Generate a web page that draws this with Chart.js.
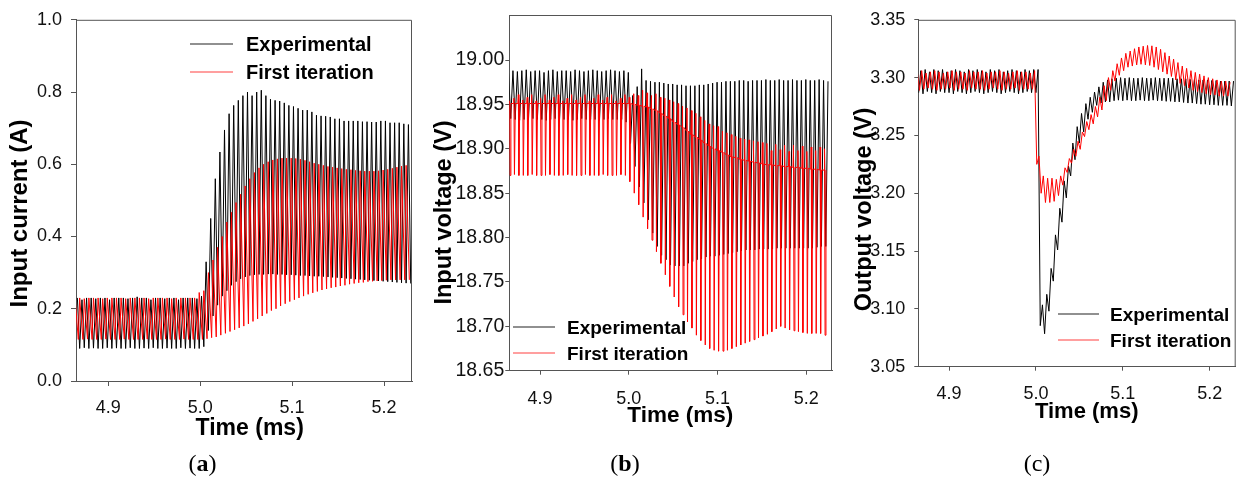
<!DOCTYPE html>
<html>
<head>
<meta charset="utf-8">
<script src="https://cdn.jsdelivr.net/npm/chart.js@4.4.1/dist/chart.umd.min.js"></script>
<style>
  html, body { margin: 0; padding: 0; background: #fff; }
  #wrap { position: relative; width: 1240px; height: 479px; overflow: hidden; }
  canvas { position: absolute; top: 0; }
</style>
</head>
<body>
<div id="wrap">
  <canvas id="ca" width="420" height="479" style="left:0"></canvas>
  <canvas id="cb" width="420" height="479" style="left:420px"></canvas>
  <canvas id="cc" width="400" height="479" style="left:840px"></canvas>
</div>
<script>
// switching cycles of 5 us; 28 cycles before the load step at 5.0 ms, 45 after
const PERIOD = 0.005;
const CYCLE_START = 4.86;

const timeTicks = [4.9, 5.0, 5.1, 5.2];
const currTicks = [0, 0.2, 0.4, 0.6, 0.8, 1.0];
const vinTicks = [18.65, 18.70, 18.75, 18.80, 18.85, 18.90, 18.95, 19.00];
const voutTicks = [3.05, 3.10, 3.15, 3.20, 3.25, 3.30, 3.35];

// (a) input current, A - peak / valley of each cycle
const currExpPeak = [
  0.23,0.225,0.23,0.23,0.228,0.23,0.23,0.225,0.23,0.23,0.23,0.228,0.23,0.233,
  0.23,0.23,0.225,0.23,0.23,0.228,0.23,0.23,0.225,0.23,0.23,0.23,0.228,0.235,
  0.33,0.45,0.56,0.634,0.695,0.74,0.763,0.777,0.79,0.80,
  0.79,0.80,0.805,0.79,0.78,0.777,0.775,0.77,0.763,0.76,
  0.755,0.75,0.75,0.745,0.736,0.734,0.733,0.731,0.726,0.726,
  0.72,0.72,0.72,0.72,0.718,0.718,0.717,0.717,0.72,0.72,
  0.715,0.715,0.715,0.712,0.71];
const currExpValley = [
  0.09,0.092,0.09,0.091,0.09,0.09,0.092,0.09,0.091,0.09,0.09,0.092,0.09,0.09,
  0.091,0.09,0.092,0.09,0.09,0.091,0.09,0.09,0.092,0.09,0.091,0.09,0.09,0.095,
  0.14,0.18,0.21,0.235,0.25,0.265,0.275,0.283,0.288,0.292,
  0.294,0.295,0.295,0.296,0.296,0.295,0.295,0.294,0.294,0.293,
  0.292,0.292,0.291,0.29,0.29,0.289,0.288,0.287,0.286,0.285,
  0.284,0.283,0.282,0.281,0.28,0.279,0.278,0.277,0.276,0.275,
  0.274,0.273,0.272,0.271,0.27];
const currSimPeak = [
  0.23,0.23,0.228,0.23,0.23,0.23,0.228,0.23,0.23,0.23,0.23,0.228,0.23,0.23,
  0.23,0.23,0.228,0.23,0.23,0.23,0.23,0.228,0.23,0.23,0.23,0.23,0.23,0.245,
  0.25,0.30,0.335,0.37,0.40,0.44,0.467,0.494,0.517,0.54,
  0.56,0.577,0.59,0.60,0.607,0.612,0.615,0.617,0.617,0.617,
  0.616,0.614,0.611,0.607,0.603,0.6,0.597,0.594,0.592,0.59,
  0.588,0.586,0.585,0.583,0.582,0.581,0.581,0.581,0.582,0.584,
  0.586,0.589,0.592,0.595,0.597];
const currSimValley = [
  0.115,0.115,0.116,0.115,0.115,0.115,0.116,0.115,0.115,0.115,0.116,0.115,0.115,0.115,
  0.115,0.116,0.115,0.115,0.115,0.116,0.115,0.115,0.115,0.116,0.115,0.115,0.115,0.115,
  0.117,0.12,0.122,0.127,0.132,0.137,0.142,0.147,0.152,0.158,
  0.165,0.172,0.18,0.187,0.195,0.2,0.208,0.214,0.22,0.225,
  0.23,0.235,0.24,0.244,0.248,0.252,0.255,0.258,0.26,0.263,
  0.265,0.268,0.27,0.272,0.273,0.275,0.276,0.277,0.278,0.279,
  0.28,0.28,0.28,0.28,0.28];

// (b) input voltage, V
const vinExpPeak = [
  18.986,18.988,18.987,18.988,18.989,18.987,18.988,18.988,18.986,18.988,18.989,18.987,18.988,18.988,
  18.987,18.989,18.988,18.987,18.988,18.989,18.988,18.987,18.988,18.989,18.988,18.987,18.988,18.986,
  18.96,18.97,18.99,18.977,18.976,18.975,18.975,18.974,18.973,18.973,
  18.972,18.972,18.971,18.971,18.971,18.972,18.972,18.973,18.974,18.975,
  18.975,18.976,18.976,18.976,18.977,18.977,18.976,18.977,18.977,18.977,
  18.978,18.977,18.977,18.978,18.977,18.977,18.978,18.977,18.977,18.978,
  18.977,18.977,18.978,18.977,18.976];
const vinExpValley = [
  18.933,18.934,18.933,18.932,18.933,18.933,18.934,18.933,18.933,18.932,18.933,18.934,18.933,18.933,
  18.933,18.932,18.933,18.934,18.933,18.933,18.933,18.932,18.933,18.934,18.933,18.933,18.933,18.93,
  18.906,18.88,18.857,18.839,18.82,18.805,18.79,18.78,18.775,18.769,
  18.768,18.768,18.768,18.771,18.773,18.775,18.776,18.778,18.779,18.779,
  18.78,18.781,18.782,18.783,18.784,18.785,18.786,18.786,18.786,18.787,
  18.787,18.787,18.787,18.788,18.788,18.788,18.788,18.788,18.788,18.788,
  18.788,18.788,18.789,18.79,18.79];
const vinSimBase = [
  18.951,18.951,18.951,18.951,18.951,18.951,18.951,18.951,18.951,18.951,18.951,18.951,18.951,18.951,
  18.951,18.951,18.951,18.951,18.951,18.951,18.951,18.951,18.951,18.951,18.951,18.951,18.951,18.951,
  18.951,18.95,18.949,18.948,18.947,18.945,18.943,18.94,18.937,18.934,
  18.93,18.927,18.924,18.92,18.916,18.913,18.91,18.906,18.903,18.90,
  18.898,18.896,18.893,18.891,18.89,18.888,18.887,18.886,18.885,18.884,
  18.883,18.882,18.882,18.881,18.881,18.88,18.88,18.879,18.879,18.878,
  18.878,18.877,18.877,18.876,18.876];
const vinSimUp = [
  18.961,18.954,18.957,18.961,18.955,18.958,18.961,18.954,18.957,18.961,18.955,18.958,18.961,18.954,
  18.957,18.961,18.955,18.958,18.961,18.954,18.957,18.961,18.955,18.958,18.961,18.954,18.957,18.961,
  18.958,18.962,18.96,18.966,18.963,18.96,18.962,18.958,18.957,18.955,
  18.953,18.951,18.948,18.946,18.943,18.94,18.936,18.932,18.928,18.926,
  18.925,18.92,18.918,18.916,18.914,18.912,18.911,18.91,18.909,18.908,
  18.907,18.906,18.898,18.905,18.899,18.904,18.897,18.904,18.898,18.903,
  18.897,18.902,18.898,18.902,18.90];
const vinSimDown = [
  18.87,18.87,18.871,18.87,18.87,18.87,18.871,18.87,18.87,18.87,18.871,18.87,18.87,18.87,
  18.871,18.87,18.87,18.87,18.871,18.87,18.87,18.87,18.871,18.87,18.87,18.87,18.871,18.87,
  18.863,18.85,18.837,18.823,18.81,18.797,18.784,18.771,18.758,18.745,
  18.733,18.722,18.713,18.705,18.698,18.69,18.684,18.679,18.675,18.673,
  18.672,18.672,18.673,18.675,18.677,18.679,18.681,18.683,18.685,18.687,
  18.689,18.691,18.694,18.697,18.70,18.698,18.696,18.695,18.694,18.693,
  18.692,18.692,18.692,18.692,18.69];

// (c) output voltage, V
const voutExpPeak = [
  3.306,3.307,3.305,3.307,3.306,3.307,3.305,3.306,3.307,3.306,3.305,3.307,3.306,3.307,
  3.306,3.305,3.307,3.306,3.307,3.305,3.306,3.307,3.306,3.305,3.307,3.306,3.307,3.307,
  3.1035,3.1126,3.135,3.164,3.187,3.2107,3.2235,3.2434,3.2576,3.269,
  3.2775,3.283,3.2875,3.292,3.296,3.298,3.299,3.2995,3.30,3.2995,
  3.30,3.2995,3.2995,3.30,3.2995,3.2995,3.30,3.2995,3.2995,3.2995,
  3.2995,3.299,3.299,3.299,3.2985,3.2985,3.298,3.298,3.298,3.2975,
  3.2975,3.297,3.297,3.297,3.297];
const voutExpValley = [
  3.287,3.286,3.288,3.287,3.286,3.288,3.287,3.287,3.286,3.288,3.287,3.286,3.287,3.288,
  3.287,3.286,3.287,3.288,3.287,3.286,3.287,3.288,3.287,3.286,3.287,3.288,3.287,3.287,
  3.0855,3.0785,3.098,3.124,3.151,3.175,3.196,3.215,3.229,3.2434,
  3.253,3.264,3.27,3.276,3.278,3.279,3.279,3.28,3.2805,3.28,
  3.2805,3.28,3.28,3.2805,3.28,3.28,3.2805,3.28,3.28,3.2795,
  3.2795,3.279,3.279,3.2785,3.278,3.278,3.2775,3.277,3.277,3.2765,
  3.2765,3.276,3.276,3.276,3.2755];
const voutSimPeak = [
  3.305,3.306,3.304,3.305,3.306,3.305,3.304,3.305,3.306,3.305,3.305,3.304,3.306,3.305,
  3.305,3.306,3.304,3.305,3.305,3.306,3.305,3.304,3.305,3.306,3.305,3.305,3.304,3.306,
  3.232,3.215,3.213,3.213,3.212,3.215,3.222,3.23,3.238,3.245,
  3.253,3.262,3.268,3.275,3.283,3.293,3.30,3.306,3.312,3.317,
  3.321,3.323,3.325,3.3265,3.3272,3.3278,3.3275,3.3265,3.3245,3.3216,
  3.3187,3.316,3.313,3.31,3.308,3.306,3.3045,3.303,3.3015,3.30,
  3.299,3.298,3.297,3.297,3.296];
const voutSimValley = [
  3.29,3.289,3.29,3.291,3.29,3.289,3.29,3.29,3.291,3.289,3.29,3.29,3.289,3.291,
  3.29,3.29,3.289,3.29,3.291,3.29,3.289,3.29,3.29,3.291,3.289,3.29,3.29,3.29,
  3.225,3.20,3.192,3.192,3.193,3.198,3.207,3.218,3.226,3.232,
  3.238,3.249,3.255,3.26,3.266,3.272,3.28,3.289,3.297,3.302,
  3.306,3.309,3.31,3.311,3.3115,3.311,3.3105,3.309,3.307,3.305,
  3.303,3.301,3.298,3.295,3.293,3.291,3.289,3.288,3.287,3.286,
  3.285,3.285,3.284,3.284,3.284];

const SANS = '"Liberation Sans", Arial, sans-serif';
const SERIF = '"Liberation Serif", "Times New Roman", serif';
const AXIS_COLOR = '#555';
const X_AXIS_H = 45;

// turn per-cycle values into a time series; each entry is [time offset in cycle, values]
function cycleSeries(parts) {
  const pts = [];
  parts.forEach(([phase, vals]) => {
    vals.forEach((v, k) => pts.push({ x: CYCLE_START + k * PERIOD + phase, y: v }));
  });
  return pts.sort((p, q) => p.x - q.x);
}

// frame, legend, axis titles and panel letter
const decorPlugin = {
  id: 'decor',
  afterDraw(chart) {
    const o = chart.options.plugins.decor;
    const ctx = chart.ctx;
    const a = chart.chartArea;
    ctx.save();
    ctx.strokeStyle = AXIS_COLOR;
    ctx.lineWidth = 1;
    ctx.beginPath();
    ctx.moveTo(a.left, a.top + 0.5);
    ctx.lineTo(a.right - 0.5, a.top + 0.5);
    ctx.lineTo(a.right - 0.5, a.bottom);
    ctx.stroke();

    // legend
    const lg = o.legend;
    const names = ['Experimental', 'First iteration'];
    const cols = ['#222', '#ff4040'];
    ctx.font = `bold ${lg.size}px ${SANS}`;
    ctx.textAlign = 'left';
    ctx.textBaseline = 'alphabetic';
    names.forEach((n, i) => {
      ctx.strokeStyle = cols[i];
      ctx.lineWidth = 1.2;
      ctx.beginPath();
      ctx.moveTo(lg.x1, lg.y[i]);
      ctx.lineTo(lg.x2, lg.y[i]);
      ctx.stroke();
      ctx.fillStyle = '#000';
      ctx.fillText(n, lg.tx, lg.y[i] + 0.358 * lg.size);
    });

    // axis titles
    ctx.fillStyle = '#000';
    ctx.font = `bold ${o.xTitle.size}px ${SANS}`;
    ctx.textAlign = 'center';
    ctx.fillText(o.xTitle.text, o.xTitle.x, o.xTitle.y);
    ctx.save();
    ctx.translate(o.yTitle.x, o.yTitle.y);
    ctx.rotate(-Math.PI / 2);
    ctx.font = `bold ${o.yTitle.size}px ${SANS}`;
    ctx.fillText(o.yTitle.text, 0, 0);
    ctx.restore();

    // panel letter, e.g. "(a)"
    const lb = o.label;
    const regFont = `${lb.size}px ${SERIF}`;
    const letFont = `${lb.bold ? 'bold ' : ''}${lb.size}px ${SERIF}`;
    ctx.font = regFont;
    const wo = ctx.measureText('(').width, wc = ctx.measureText(')').width;
    ctx.font = letFont;
    const wl = ctx.measureText(lb.letter).width;
    let x = lb.x - (wo + wl + wc) / 2;
    ctx.textAlign = 'left';
    ctx.font = regFont; ctx.fillText('(', x, lb.y); x += wo;
    ctx.font = letFont; ctx.fillText(lb.letter, x, lb.y); x += wl;
    ctx.font = regFont; ctx.fillText(')', x, lb.y);
    ctx.restore();
  }
};

function makePanel(p) {
  const canvas = document.getElementById(p.id);
  const W = canvas.width, H = canvas.height;
  const line = (label, data, color, order) => ({
    label, data, order,
    borderColor: color,
    borderWidth: 1,
    borderJoinStyle: 'bevel',
    pointRadius: 0,
    tension: 0,
    fill: false
  });
  return new Chart(canvas, {
    type: 'line',
    data: {
      datasets: [
        line('Experimental', p.exp, '#000000', 1),
        line('First iteration', p.sim, '#ff0000', 0)
      ]
    },
    options: {
      responsive: false,
      animation: false,
      normalized: true,
      events: [],
      layout: {
        padding: {
          left: 0,
          top: p.area.top,
          right: W - p.area.right,
          bottom: H - p.area.bottom - X_AXIS_H
        }
      },
      plugins: {
        legend: { display: false },
        tooltip: { enabled: false },
        decor: p.decor
      },
      scales: {
        x: {
          type: 'linear',
          min: p.xMin,
          max: p.xMax,
          afterFit: s => { s.height = X_AXIS_H; },
          afterBuildTicks: s => { s.ticks = timeTicks.map(v => ({ value: v })); },
          ticks: {
            autoSkip: false, maxRotation: 0, padding: p.xPad, color: '#111',
            font: { family: SANS, size: p.xTickSize },
            callback: v => v.toFixed(1)
          },
          grid: { drawOnChartArea: false, drawTicks: true, tickLength: p.tickLen, color: AXIS_COLOR },
          border: { display: true, color: AXIS_COLOR, width: 1 }
        },
        y: {
          type: 'linear',
          min: p.yMin,
          max: p.yMax,
          afterFit: s => { s.width = p.area.left; },
          afterBuildTicks: s => { s.ticks = p.yTicks.map(v => ({ value: v })); },
          ticks: {
            autoSkip: false, padding: p.yPad, color: '#111',
            font: { family: SANS, size: p.yTickSize },
            callback: v => v.toFixed(p.yDec)
          },
          grid: { drawOnChartArea: false, drawTicks: true, tickLength: p.tickLen, color: AXIS_COLOR },
          border: { display: true, color: AXIS_COLOR, width: 1 }
        }
      }
    },
    plugins: [decorPlugin]
  });
}

makePanel({
  id: 'ca', xMin: 4.865, xMax: 5.2304, yMin: 0, yMax: 1.0, yTicks: currTicks, yDec: 1,
  area: { left: 76, right: 412, top: 15, bottom: 381 },
  tickLen: 5, yPad: 9, xPad: 11.5, xTickSize: 18, yTickSize: 18,
  exp: cycleSeries([[0.0065, currExpPeak], [0.009, currExpValley]]),
  sim: cycleSeries([[0.004, currSimPeak], [0.0075, currSimValley]]),
  decor: {
    xTitle: { text: 'Time (ms)', x: 249.7, y: 435, size: 23 },
    yTitle: { text: 'Input current (A)', x: 26.7, y: 213.5, size: 24 },
    legend: { x1: 190, x2: 233, tx: 246, y: [44, 72], size: 20 },
    label: { letter: 'a', bold: true, x: 202.5, y: 471, size: 24 }
  }
});

makePanel({
  id: 'cb', xMin: 4.8654, xMax: 5.229, yMin: 18.65, yMax: 19.0507, yTicks: vinTicks, yDec: 2,
  area: { left: 89.3, right: 412, top: 15, bottom: 370.7 },
  tickLen: 4, yPad: 1, xPad: 13.5, xTickSize: 18, yTickSize: 19.5,
  exp: cycleSeries([[0.002, vinExpValley], [0.0045, vinExpPeak]]),
  sim: cycleSeries([[0, vinSimBase], [0.0006, vinSimUp], [0.0012, vinSimDown], [0.0022, vinSimBase]]),
  decor: {
    xTitle: { text: 'Time (ms)', x: 260.3, y: 421.7, size: 22.5 },
    yTitle: { text: 'Input voltage (V)', x: 30.7, y: 212.5, size: 23.5 },
    legend: { x1: 93, x2: 135, tx: 147, y: [327, 353], size: 19 },
    label: { letter: 'b', bold: true, x: 205, y: 471, size: 24 }
  }
});

makePanel({
  id: 'cc', xMin: 4.8646, xMax: 5.23, yMin: 3.05, yMax: 3.35, yTicks: voutTicks, yDec: 2,
  area: { left: 78.3, right: 395.7, top: 15, bottom: 366.7 },
  tickLen: 4, yPad: 9, xPad: 12.5, xTickSize: 18, yTickSize: 18,
  exp: cycleSeries([[0.005, voutExpValley], [0.0075, voutExpPeak]]),
  sim: cycleSeries([[0.001, voutSimValley], [0.0035, voutSimPeak]]),
  decor: {
    xTitle: { text: 'Time (ms)', x: 246.7, y: 418.3, size: 22 },
    yTitle: { text: 'Output voltage (V)', x: 30.7, y: 209.5, size: 23.5 },
    legend: { x1: 218, x2: 259, tx: 270, y: [314, 340], size: 19 },
    label: { letter: 'c', bold: false, x: 197, y: 471, size: 24 }
  }
});
</script>
</body>
</html>
